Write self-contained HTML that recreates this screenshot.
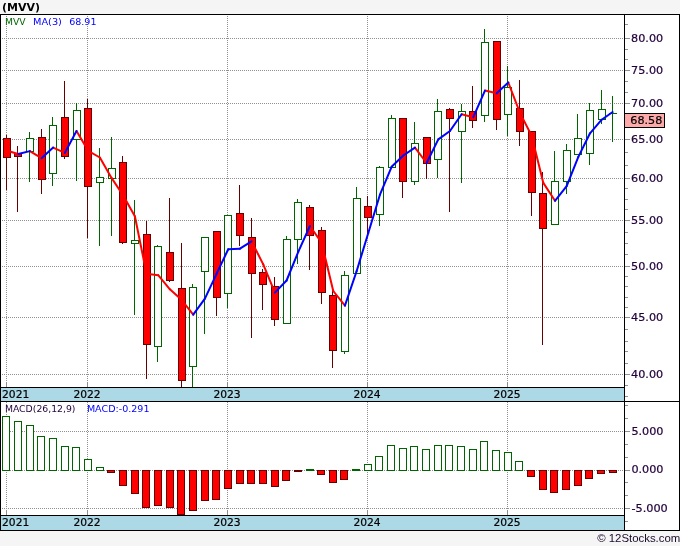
<!DOCTYPE html>
<html><head><meta charset="utf-8"><title>MVV</title>
<style>html,body{margin:0;padding:0;background:#f5f5f5;}body{width:680px;height:546px;overflow:hidden}</style></head>
<body>
<svg width="680" height="546" viewBox="0 0 680 546" style="display:block">
<rect x="0" y="0" width="680" height="546" fill="#f5f5f5"/>
<g shape-rendering="crispEdges">
<rect x="0" y="14" width="680" height="517" fill="#000"/>
<rect x="1" y="15" width="623" height="372" fill="#fff"/>
<rect x="1" y="388" width="623" height="13" fill="#add8e6"/>
<rect x="1" y="402" width="623" height="113" fill="#fff"/>
<rect x="1" y="516" width="623" height="14" fill="#add8e6"/>
<rect x="625" y="15" width="54" height="386" fill="#fff"/>
<rect x="625" y="402" width="54" height="128" fill="#fff"/>
<line x1="2" y1="38.5" x2="624" y2="38.5" stroke="#909090" stroke-width="1" stroke-dasharray="1 1"/>
<line x1="2" y1="70.5" x2="624" y2="70.5" stroke="#909090" stroke-width="1" stroke-dasharray="1 1"/>
<line x1="2" y1="103.5" x2="624" y2="103.5" stroke="#909090" stroke-width="1" stroke-dasharray="1 1"/>
<line x1="2" y1="139.5" x2="624" y2="139.5" stroke="#909090" stroke-width="1" stroke-dasharray="1 1"/>
<line x1="2" y1="178.5" x2="624" y2="178.5" stroke="#909090" stroke-width="1" stroke-dasharray="1 1"/>
<line x1="2" y1="220.5" x2="624" y2="220.5" stroke="#909090" stroke-width="1" stroke-dasharray="1 1"/>
<line x1="2" y1="266.5" x2="624" y2="266.5" stroke="#909090" stroke-width="1" stroke-dasharray="1 1"/>
<line x1="2" y1="317.5" x2="624" y2="317.5" stroke="#909090" stroke-width="1" stroke-dasharray="1 1"/>
<line x1="2" y1="374.5" x2="624" y2="374.5" stroke="#909090" stroke-width="1" stroke-dasharray="1 1"/>
<line x1="2" y1="431.5" x2="624" y2="431.5" stroke="#909090" stroke-width="1" stroke-dasharray="1 1"/>
<line x1="2" y1="470.5" x2="624" y2="470.5" stroke="#909090" stroke-width="1" stroke-dasharray="1 1"/>
<line x1="2" y1="508.5" x2="624" y2="508.5" stroke="#909090" stroke-width="1" stroke-dasharray="1 1"/>
<line x1="6.5" y1="16" x2="6.5" y2="382" stroke="#909090" stroke-width="1" stroke-dasharray="1 1"/>
<line x1="6.5" y1="402" x2="6.5" y2="510" stroke="#909090" stroke-width="1" stroke-dasharray="1 1"/>
<rect x="6" y="382" width="1" height="5" fill="#909090"/>
<rect x="6" y="510" width="1" height="5" fill="#909090"/>
<line x1="87.5" y1="16" x2="87.5" y2="382" stroke="#909090" stroke-width="1" stroke-dasharray="1 1"/>
<line x1="87.5" y1="402" x2="87.5" y2="510" stroke="#909090" stroke-width="1" stroke-dasharray="1 1"/>
<rect x="87" y="382" width="1" height="5" fill="#909090"/>
<rect x="87" y="510" width="1" height="5" fill="#909090"/>
<line x1="227.5" y1="16" x2="227.5" y2="382" stroke="#909090" stroke-width="1" stroke-dasharray="1 1"/>
<line x1="227.5" y1="402" x2="227.5" y2="510" stroke="#909090" stroke-width="1" stroke-dasharray="1 1"/>
<rect x="227" y="382" width="1" height="5" fill="#909090"/>
<rect x="227" y="510" width="1" height="5" fill="#909090"/>
<line x1="367.5" y1="16" x2="367.5" y2="382" stroke="#909090" stroke-width="1" stroke-dasharray="1 1"/>
<line x1="367.5" y1="402" x2="367.5" y2="510" stroke="#909090" stroke-width="1" stroke-dasharray="1 1"/>
<rect x="367" y="382" width="1" height="5" fill="#909090"/>
<rect x="367" y="510" width="1" height="5" fill="#909090"/>
<line x1="507.5" y1="16" x2="507.5" y2="382" stroke="#909090" stroke-width="1" stroke-dasharray="1 1"/>
<line x1="507.5" y1="402" x2="507.5" y2="510" stroke="#909090" stroke-width="1" stroke-dasharray="1 1"/>
<rect x="507" y="382" width="1" height="5" fill="#909090"/>
<rect x="507" y="510" width="1" height="5" fill="#909090"/>
<rect x="625" y="38" width="5" height="1" fill="#909090"/>
<rect x="625" y="70" width="5" height="1" fill="#909090"/>
<rect x="625" y="103" width="5" height="1" fill="#909090"/>
<rect x="625" y="139" width="5" height="1" fill="#909090"/>
<rect x="625" y="178" width="5" height="1" fill="#909090"/>
<rect x="625" y="220" width="5" height="1" fill="#909090"/>
<rect x="625" y="266" width="5" height="1" fill="#909090"/>
<rect x="625" y="317" width="5" height="1" fill="#909090"/>
<rect x="625" y="374" width="5" height="1" fill="#909090"/>
<rect x="625" y="24" width="3" height="1" fill="#909090"/>
<rect x="625" y="49" width="3" height="1" fill="#909090"/>
<rect x="625" y="59" width="3" height="1" fill="#909090"/>
<rect x="625" y="81" width="3" height="1" fill="#909090"/>
<rect x="625" y="92" width="3" height="1" fill="#909090"/>
<rect x="625" y="152" width="3" height="1" fill="#909090"/>
<rect x="625" y="165" width="3" height="1" fill="#909090"/>
<rect x="625" y="188" width="3" height="1" fill="#909090"/>
<rect x="625" y="199" width="3" height="1" fill="#909090"/>
<rect x="625" y="209" width="3" height="1" fill="#909090"/>
<rect x="625" y="232" width="3" height="1" fill="#909090"/>
<rect x="625" y="243" width="3" height="1" fill="#909090"/>
<rect x="625" y="254" width="3" height="1" fill="#909090"/>
<rect x="625" y="276" width="3" height="1" fill="#909090"/>
<rect x="625" y="286" width="3" height="1" fill="#909090"/>
<rect x="625" y="297" width="3" height="1" fill="#909090"/>
<rect x="625" y="307" width="3" height="1" fill="#909090"/>
<rect x="625" y="329" width="3" height="1" fill="#909090"/>
<rect x="625" y="341" width="3" height="1" fill="#909090"/>
<rect x="625" y="351" width="3" height="1" fill="#909090"/>
<rect x="625" y="363" width="3" height="1" fill="#909090"/>
<rect x="625" y="385" width="3" height="1" fill="#909090"/>
<rect x="625" y="396" width="3" height="1" fill="#909090"/>
<rect x="625" y="431" width="5" height="1" fill="#909090"/>
<rect x="625" y="470" width="5" height="1" fill="#909090"/>
<rect x="625" y="508" width="5" height="1" fill="#909090"/>
<rect x="625" y="405" width="3" height="1" fill="#909090"/>
<rect x="625" y="418" width="3" height="1" fill="#909090"/>
<rect x="625" y="444" width="3" height="1" fill="#909090"/>
<rect x="625" y="457" width="3" height="1" fill="#909090"/>
<rect x="625" y="482" width="3" height="1" fill="#909090"/>
<rect x="625" y="495" width="3" height="1" fill="#909090"/>
<rect x="625" y="521" width="3" height="1" fill="#909090"/>
<rect x="6" y="135" width="1" height="55" fill="#640000"/>
<rect x="3" y="138" width="8" height="20" fill="#640000"/>
<rect x="4" y="139" width="6" height="18" fill="#ff0000"/>
<rect x="17" y="146" width="1" height="66" fill="#640000"/>
<rect x="14" y="153" width="8" height="4" fill="#640000"/>
<rect x="15" y="154" width="6" height="2" fill="#ff0000"/>
<rect x="29" y="132" width="1" height="50" fill="#006400"/>
<rect x="26" y="138" width="8" height="14" fill="#006400"/>
<rect x="27" y="139" width="6" height="12" fill="#fff"/>
<rect x="41" y="129" width="1" height="65" fill="#640000"/>
<rect x="38" y="137" width="8" height="43" fill="#640000"/>
<rect x="39" y="138" width="6" height="41" fill="#ff0000"/>
<rect x="52" y="117" width="1" height="69" fill="#006400"/>
<rect x="49" y="125" width="8" height="49" fill="#006400"/>
<rect x="50" y="126" width="6" height="47" fill="#fff"/>
<rect x="64" y="81" width="1" height="78" fill="#640000"/>
<rect x="61" y="117" width="8" height="40" fill="#640000"/>
<rect x="62" y="118" width="6" height="38" fill="#ff0000"/>
<rect x="76" y="103" width="1" height="78" fill="#006400"/>
<rect x="73" y="110" width="8" height="30" fill="#006400"/>
<rect x="74" y="111" width="6" height="28" fill="#fff"/>
<rect x="87" y="99" width="1" height="139" fill="#640000"/>
<rect x="84" y="108" width="8" height="79" fill="#640000"/>
<rect x="85" y="109" width="6" height="77" fill="#ff0000"/>
<rect x="99" y="148" width="1" height="98" fill="#006400"/>
<rect x="96" y="177" width="8" height="6" fill="#006400"/>
<rect x="97" y="178" width="6" height="4" fill="#fff"/>
<rect x="111" y="137" width="1" height="99" fill="#006400"/>
<rect x="108" y="168" width="8" height="11" fill="#006400"/>
<rect x="109" y="169" width="6" height="9" fill="#fff"/>
<rect x="122" y="156" width="1" height="88" fill="#640000"/>
<rect x="119" y="162" width="8" height="81" fill="#640000"/>
<rect x="120" y="163" width="6" height="79" fill="#ff0000"/>
<rect x="134" y="200" width="1" height="115" fill="#006400"/>
<rect x="131" y="240" width="8" height="4" fill="#006400"/>
<rect x="132" y="241" width="6" height="2" fill="#fff"/>
<rect x="146" y="221" width="1" height="158" fill="#640000"/>
<rect x="143" y="234" width="8" height="111" fill="#640000"/>
<rect x="144" y="235" width="6" height="109" fill="#ff0000"/>
<rect x="157" y="245" width="1" height="117" fill="#006400"/>
<rect x="154" y="246" width="8" height="101" fill="#006400"/>
<rect x="155" y="247" width="6" height="99" fill="#fff"/>
<rect x="169" y="198" width="1" height="84" fill="#640000"/>
<rect x="166" y="252" width="8" height="29" fill="#640000"/>
<rect x="167" y="253" width="6" height="27" fill="#ff0000"/>
<rect x="181" y="243" width="1" height="144" fill="#640000"/>
<rect x="178" y="288" width="8" height="93" fill="#640000"/>
<rect x="179" y="289" width="6" height="91" fill="#ff0000"/>
<rect x="192" y="284" width="1" height="103" fill="#006400"/>
<rect x="189" y="287" width="8" height="80" fill="#006400"/>
<rect x="190" y="288" width="6" height="78" fill="#fff"/>
<rect x="204" y="237" width="1" height="97" fill="#006400"/>
<rect x="201" y="237" width="8" height="35" fill="#006400"/>
<rect x="202" y="238" width="6" height="33" fill="#fff"/>
<rect x="216" y="231" width="1" height="85" fill="#640000"/>
<rect x="213" y="231" width="8" height="67" fill="#640000"/>
<rect x="214" y="232" width="6" height="65" fill="#ff0000"/>
<rect x="227" y="215" width="1" height="93" fill="#006400"/>
<rect x="224" y="215" width="8" height="79" fill="#006400"/>
<rect x="225" y="216" width="6" height="77" fill="#fff"/>
<rect x="239" y="185" width="1" height="61" fill="#640000"/>
<rect x="236" y="213" width="8" height="23" fill="#640000"/>
<rect x="237" y="214" width="6" height="21" fill="#ff0000"/>
<rect x="251" y="218" width="1" height="120" fill="#640000"/>
<rect x="248" y="237" width="8" height="37" fill="#640000"/>
<rect x="249" y="238" width="6" height="35" fill="#ff0000"/>
<rect x="262" y="269" width="1" height="41" fill="#640000"/>
<rect x="259" y="272" width="8" height="13" fill="#640000"/>
<rect x="260" y="273" width="6" height="11" fill="#ff0000"/>
<rect x="274" y="277" width="1" height="49" fill="#640000"/>
<rect x="271" y="286" width="8" height="34" fill="#640000"/>
<rect x="272" y="287" width="6" height="32" fill="#ff0000"/>
<rect x="286" y="236" width="1" height="88" fill="#006400"/>
<rect x="283" y="239" width="8" height="85" fill="#006400"/>
<rect x="284" y="240" width="6" height="83" fill="#fff"/>
<rect x="297" y="199" width="1" height="65" fill="#006400"/>
<rect x="294" y="202" width="8" height="38" fill="#006400"/>
<rect x="295" y="203" width="6" height="36" fill="#fff"/>
<rect x="309" y="205" width="1" height="65" fill="#640000"/>
<rect x="306" y="207" width="8" height="29" fill="#640000"/>
<rect x="307" y="208" width="6" height="27" fill="#ff0000"/>
<rect x="321" y="227" width="1" height="77" fill="#640000"/>
<rect x="318" y="230" width="8" height="63" fill="#640000"/>
<rect x="319" y="231" width="6" height="61" fill="#ff0000"/>
<rect x="332" y="290" width="1" height="78" fill="#640000"/>
<rect x="329" y="295" width="8" height="56" fill="#640000"/>
<rect x="330" y="296" width="6" height="54" fill="#ff0000"/>
<rect x="344" y="271" width="1" height="83" fill="#006400"/>
<rect x="341" y="275" width="8" height="77" fill="#006400"/>
<rect x="342" y="276" width="6" height="75" fill="#fff"/>
<rect x="356" y="187" width="1" height="87" fill="#006400"/>
<rect x="353" y="198" width="8" height="76" fill="#006400"/>
<rect x="354" y="199" width="6" height="74" fill="#fff"/>
<rect x="367" y="196" width="1" height="41" fill="#640000"/>
<rect x="364" y="206" width="8" height="12" fill="#640000"/>
<rect x="365" y="207" width="6" height="10" fill="#ff0000"/>
<rect x="379" y="166" width="1" height="60" fill="#006400"/>
<rect x="376" y="167" width="8" height="48" fill="#006400"/>
<rect x="377" y="168" width="6" height="46" fill="#fff"/>
<rect x="391" y="115" width="1" height="53" fill="#006400"/>
<rect x="388" y="118" width="8" height="50" fill="#006400"/>
<rect x="389" y="119" width="6" height="48" fill="#fff"/>
<rect x="402" y="118" width="1" height="80" fill="#640000"/>
<rect x="399" y="118" width="8" height="64" fill="#640000"/>
<rect x="400" y="119" width="6" height="62" fill="#ff0000"/>
<rect x="414" y="122" width="1" height="63" fill="#006400"/>
<rect x="411" y="143" width="8" height="39" fill="#006400"/>
<rect x="412" y="144" width="6" height="37" fill="#fff"/>
<rect x="426" y="137" width="1" height="42" fill="#640000"/>
<rect x="423" y="137" width="8" height="27" fill="#640000"/>
<rect x="424" y="138" width="6" height="25" fill="#ff0000"/>
<rect x="437" y="99" width="1" height="79" fill="#006400"/>
<rect x="434" y="111" width="8" height="49" fill="#006400"/>
<rect x="435" y="112" width="6" height="47" fill="#fff"/>
<rect x="449" y="108" width="1" height="104" fill="#640000"/>
<rect x="446" y="109" width="8" height="10" fill="#640000"/>
<rect x="447" y="110" width="6" height="8" fill="#ff0000"/>
<rect x="461" y="104" width="1" height="79" fill="#006400"/>
<rect x="458" y="111" width="8" height="21" fill="#006400"/>
<rect x="459" y="112" width="6" height="19" fill="#fff"/>
<rect x="472" y="86" width="1" height="42" fill="#640000"/>
<rect x="469" y="111" width="8" height="10" fill="#640000"/>
<rect x="470" y="112" width="6" height="8" fill="#ff0000"/>
<rect x="484" y="29" width="1" height="93" fill="#006400"/>
<rect x="481" y="42" width="8" height="74" fill="#006400"/>
<rect x="482" y="43" width="6" height="72" fill="#fff"/>
<rect x="496" y="41" width="1" height="89" fill="#640000"/>
<rect x="493" y="41" width="8" height="79" fill="#640000"/>
<rect x="494" y="42" width="6" height="77" fill="#ff0000"/>
<rect x="507" y="66" width="1" height="70" fill="#006400"/>
<rect x="504" y="87" width="8" height="28" fill="#006400"/>
<rect x="505" y="88" width="6" height="26" fill="#fff"/>
<rect x="519" y="80" width="1" height="66" fill="#640000"/>
<rect x="516" y="108" width="8" height="24" fill="#640000"/>
<rect x="517" y="109" width="6" height="22" fill="#ff0000"/>
<rect x="531" y="131" width="1" height="85" fill="#640000"/>
<rect x="528" y="131" width="8" height="62" fill="#640000"/>
<rect x="529" y="132" width="6" height="60" fill="#ff0000"/>
<rect x="542" y="172" width="1" height="173" fill="#640000"/>
<rect x="539" y="193" width="8" height="36" fill="#640000"/>
<rect x="540" y="194" width="6" height="34" fill="#ff0000"/>
<rect x="554" y="151" width="1" height="74" fill="#006400"/>
<rect x="551" y="181" width="8" height="44" fill="#006400"/>
<rect x="552" y="182" width="6" height="42" fill="#fff"/>
<rect x="566" y="144" width="1" height="50" fill="#006400"/>
<rect x="563" y="150" width="8" height="32" fill="#006400"/>
<rect x="564" y="151" width="6" height="30" fill="#fff"/>
<rect x="577" y="114" width="1" height="41" fill="#006400"/>
<rect x="574" y="138" width="8" height="17" fill="#006400"/>
<rect x="575" y="139" width="6" height="15" fill="#fff"/>
<rect x="589" y="103" width="1" height="62" fill="#006400"/>
<rect x="586" y="110" width="8" height="44" fill="#006400"/>
<rect x="587" y="111" width="6" height="42" fill="#fff"/>
<rect x="601" y="90" width="1" height="34" fill="#006400"/>
<rect x="598" y="109" width="8" height="11" fill="#006400"/>
<rect x="599" y="110" width="6" height="9" fill="#fff"/>
<rect x="612" y="96" width="1" height="46" fill="#006400"/>
<rect x="609" y="113" width="8" height="1" fill="#006400"/>
<rect x="2" y="416" width="8" height="55" fill="#006400"/>
<rect x="3" y="417" width="6" height="53" fill="#fff"/>
<rect x="14" y="421" width="8" height="50" fill="#006400"/>
<rect x="15" y="422" width="6" height="48" fill="#fff"/>
<rect x="26" y="425" width="8" height="46" fill="#006400"/>
<rect x="27" y="426" width="6" height="44" fill="#fff"/>
<rect x="37" y="436" width="8" height="35" fill="#006400"/>
<rect x="38" y="437" width="6" height="33" fill="#fff"/>
<rect x="49" y="438" width="8" height="33" fill="#006400"/>
<rect x="50" y="439" width="6" height="31" fill="#fff"/>
<rect x="61" y="446" width="8" height="25" fill="#006400"/>
<rect x="62" y="447" width="6" height="23" fill="#fff"/>
<rect x="72" y="447" width="8" height="24" fill="#006400"/>
<rect x="73" y="448" width="6" height="22" fill="#fff"/>
<rect x="84" y="459" width="8" height="12" fill="#006400"/>
<rect x="85" y="460" width="6" height="10" fill="#fff"/>
<rect x="96" y="467" width="8" height="4" fill="#006400"/>
<rect x="97" y="468" width="6" height="2" fill="#fff"/>
<rect x="107" y="470" width="8" height="3" fill="#640000"/>
<rect x="108" y="471" width="6" height="1" fill="#ff0000"/>
<rect x="119" y="470" width="8" height="16" fill="#640000"/>
<rect x="120" y="471" width="6" height="14" fill="#ff0000"/>
<rect x="131" y="470" width="8" height="24" fill="#640000"/>
<rect x="132" y="471" width="6" height="22" fill="#ff0000"/>
<rect x="142" y="470" width="8" height="38" fill="#640000"/>
<rect x="143" y="471" width="6" height="36" fill="#ff0000"/>
<rect x="154" y="470" width="8" height="36" fill="#640000"/>
<rect x="155" y="471" width="6" height="34" fill="#ff0000"/>
<rect x="166" y="470" width="8" height="38" fill="#640000"/>
<rect x="167" y="471" width="6" height="36" fill="#ff0000"/>
<rect x="177" y="470" width="8" height="45" fill="#640000"/>
<rect x="178" y="471" width="6" height="43" fill="#ff0000"/>
<rect x="189" y="470" width="8" height="41" fill="#640000"/>
<rect x="190" y="471" width="6" height="39" fill="#ff0000"/>
<rect x="201" y="470" width="8" height="31" fill="#640000"/>
<rect x="202" y="471" width="6" height="29" fill="#ff0000"/>
<rect x="212" y="470" width="8" height="30" fill="#640000"/>
<rect x="213" y="471" width="6" height="28" fill="#ff0000"/>
<rect x="224" y="470" width="8" height="19" fill="#640000"/>
<rect x="225" y="471" width="6" height="17" fill="#ff0000"/>
<rect x="236" y="470" width="8" height="14" fill="#640000"/>
<rect x="237" y="471" width="6" height="12" fill="#ff0000"/>
<rect x="247" y="470" width="8" height="14" fill="#640000"/>
<rect x="248" y="471" width="6" height="12" fill="#ff0000"/>
<rect x="259" y="470" width="8" height="14" fill="#640000"/>
<rect x="260" y="471" width="6" height="12" fill="#ff0000"/>
<rect x="271" y="470" width="8" height="17" fill="#640000"/>
<rect x="272" y="471" width="6" height="15" fill="#ff0000"/>
<rect x="282" y="470" width="8" height="11" fill="#640000"/>
<rect x="283" y="471" width="6" height="9" fill="#ff0000"/>
<rect x="294" y="470" width="8" height="2" fill="#640000"/>
<rect x="306" y="469" width="8" height="2" fill="#006400"/>
<rect x="317" y="470" width="8" height="5" fill="#640000"/>
<rect x="318" y="471" width="6" height="3" fill="#ff0000"/>
<rect x="329" y="470" width="8" height="13" fill="#640000"/>
<rect x="330" y="471" width="6" height="11" fill="#ff0000"/>
<rect x="340" y="470" width="8" height="10" fill="#640000"/>
<rect x="341" y="471" width="6" height="8" fill="#ff0000"/>
<rect x="352" y="469" width="8" height="2" fill="#006400"/>
<rect x="364" y="464" width="8" height="7" fill="#006400"/>
<rect x="365" y="465" width="6" height="5" fill="#fff"/>
<rect x="375" y="456" width="8" height="15" fill="#006400"/>
<rect x="376" y="457" width="6" height="13" fill="#fff"/>
<rect x="387" y="445" width="8" height="26" fill="#006400"/>
<rect x="388" y="446" width="6" height="24" fill="#fff"/>
<rect x="399" y="448" width="8" height="23" fill="#006400"/>
<rect x="400" y="449" width="6" height="21" fill="#fff"/>
<rect x="410" y="446" width="8" height="25" fill="#006400"/>
<rect x="411" y="447" width="6" height="23" fill="#fff"/>
<rect x="422" y="449" width="8" height="22" fill="#006400"/>
<rect x="423" y="450" width="6" height="20" fill="#fff"/>
<rect x="434" y="445" width="8" height="26" fill="#006400"/>
<rect x="435" y="446" width="6" height="24" fill="#fff"/>
<rect x="445" y="445" width="8" height="26" fill="#006400"/>
<rect x="446" y="446" width="6" height="24" fill="#fff"/>
<rect x="457" y="446" width="8" height="25" fill="#006400"/>
<rect x="458" y="447" width="6" height="23" fill="#fff"/>
<rect x="469" y="449" width="8" height="22" fill="#006400"/>
<rect x="470" y="450" width="6" height="20" fill="#fff"/>
<rect x="480" y="441" width="8" height="30" fill="#006400"/>
<rect x="481" y="442" width="6" height="28" fill="#fff"/>
<rect x="492" y="450" width="8" height="21" fill="#006400"/>
<rect x="493" y="451" width="6" height="19" fill="#fff"/>
<rect x="504" y="452" width="8" height="19" fill="#006400"/>
<rect x="505" y="453" width="6" height="17" fill="#fff"/>
<rect x="515" y="461" width="8" height="10" fill="#006400"/>
<rect x="516" y="462" width="6" height="8" fill="#fff"/>
<rect x="527" y="470" width="8" height="7" fill="#640000"/>
<rect x="528" y="471" width="6" height="5" fill="#ff0000"/>
<rect x="539" y="470" width="8" height="20" fill="#640000"/>
<rect x="540" y="471" width="6" height="18" fill="#ff0000"/>
<rect x="550" y="470" width="8" height="23" fill="#640000"/>
<rect x="551" y="471" width="6" height="21" fill="#ff0000"/>
<rect x="562" y="470" width="8" height="20" fill="#640000"/>
<rect x="563" y="471" width="6" height="18" fill="#ff0000"/>
<rect x="574" y="470" width="8" height="16" fill="#640000"/>
<rect x="575" y="471" width="6" height="14" fill="#ff0000"/>
<rect x="585" y="470" width="8" height="9" fill="#640000"/>
<rect x="586" y="471" width="6" height="7" fill="#ff0000"/>
<rect x="597" y="470" width="8" height="4" fill="#640000"/>
<rect x="598" y="471" width="6" height="2" fill="#ff0000"/>
<rect x="609" y="470" width="8" height="3" fill="#640000"/>
<rect x="610" y="471" width="6" height="1" fill="#ff0000"/>
<rect x="624" y="113" width="41" height="15" fill="#000"/>
<rect x="625" y="114" width="39" height="13" fill="#ffaaaa"/>
</g>
<g fill="none" stroke-width="2" stroke-linecap="round" stroke-linejoin="round">
<line x1="6.50" y1="150.5" x2="18.17" y2="154.0" stroke="#ff0000"/>
<line x1="29.84" y1="151.1" x2="41.51" y2="158.2" stroke="#ff0000"/>
<line x1="53.18" y1="147.6" x2="64.85" y2="152.9" stroke="#ff0000"/>
<line x1="76.52" y1="131.0" x2="88.19" y2="150.8" stroke="#ff0000"/>
<line x1="88.19" y1="150.8" x2="99.86" y2="157.5" stroke="#ff0000"/>
<line x1="99.86" y1="157.5" x2="111.53" y2="177.9" stroke="#ff0000"/>
<line x1="111.53" y1="177.9" x2="123.20" y2="195.5" stroke="#ff0000"/>
<line x1="123.20" y1="195.5" x2="134.87" y2="216.3" stroke="#ff0000"/>
<line x1="134.87" y1="216.3" x2="146.54" y2="273.8" stroke="#ff0000"/>
<line x1="146.54" y1="273.8" x2="158.21" y2="275.2" stroke="#ff0000"/>
<line x1="158.21" y1="275.2" x2="169.88" y2="289.3" stroke="#ff0000"/>
<line x1="169.88" y1="289.3" x2="181.55" y2="299.8" stroke="#ff0000"/>
<line x1="181.55" y1="299.8" x2="193.22" y2="314.6" stroke="#ff0000"/>
<line x1="251.57" y1="241.3" x2="263.24" y2="264.4" stroke="#ff0000"/>
<line x1="263.24" y1="264.4" x2="274.91" y2="292.6" stroke="#ff0000"/>
<line x1="309.92" y1="226.0" x2="321.59" y2="242.6" stroke="#ff0000"/>
<line x1="321.59" y1="242.6" x2="333.26" y2="291.0" stroke="#ff0000"/>
<line x1="333.26" y1="291.0" x2="344.93" y2="305.6" stroke="#ff0000"/>
<line x1="414.95" y1="147.6" x2="426.62" y2="163.0" stroke="#ff0000"/>
<line x1="461.63" y1="114.2" x2="473.30" y2="117.2" stroke="#ff0000"/>
<line x1="484.97" y1="90.6" x2="496.64" y2="93.2" stroke="#ff0000"/>
<line x1="508.31" y1="82.5" x2="519.98" y2="112.9" stroke="#ff0000"/>
<line x1="519.98" y1="112.9" x2="531.65" y2="135.7" stroke="#ff0000"/>
<line x1="531.65" y1="135.7" x2="543.32" y2="182.9" stroke="#ff0000"/>
<line x1="543.32" y1="182.9" x2="554.99" y2="200.8" stroke="#ff0000"/>
<line x1="18.17" y1="154.0" x2="29.84" y2="151.1" stroke="#0000ff"/>
<line x1="41.51" y1="158.2" x2="53.18" y2="147.6" stroke="#0000ff"/>
<line x1="64.85" y1="152.9" x2="76.52" y2="131.0" stroke="#0000ff"/>
<line x1="193.22" y1="314.6" x2="204.89" y2="298.7" stroke="#0000ff"/>
<line x1="204.89" y1="298.7" x2="216.56" y2="273.8" stroke="#0000ff"/>
<line x1="216.56" y1="273.8" x2="228.23" y2="249.3" stroke="#0000ff"/>
<line x1="228.23" y1="249.3" x2="239.90" y2="248.7" stroke="#0000ff"/>
<line x1="239.90" y1="248.7" x2="251.57" y2="241.3" stroke="#0000ff"/>
<line x1="274.91" y1="292.6" x2="286.58" y2="280.5" stroke="#0000ff"/>
<line x1="286.58" y1="280.5" x2="298.25" y2="251.9" stroke="#0000ff"/>
<line x1="298.25" y1="251.9" x2="309.92" y2="226.0" stroke="#0000ff"/>
<line x1="344.93" y1="305.6" x2="356.60" y2="271.3" stroke="#0000ff"/>
<line x1="356.60" y1="271.3" x2="368.27" y2="233.0" stroke="#0000ff"/>
<line x1="368.27" y1="233.0" x2="379.94" y2="194.7" stroke="#0000ff"/>
<line x1="379.94" y1="194.7" x2="391.61" y2="166.8" stroke="#0000ff"/>
<line x1="391.61" y1="166.8" x2="403.28" y2="155.5" stroke="#0000ff"/>
<line x1="403.28" y1="155.5" x2="414.95" y2="147.6" stroke="#0000ff"/>
<line x1="426.62" y1="163.0" x2="438.29" y2="139.4" stroke="#0000ff"/>
<line x1="438.29" y1="139.4" x2="449.96" y2="131.0" stroke="#0000ff"/>
<line x1="449.96" y1="131.0" x2="461.63" y2="114.2" stroke="#0000ff"/>
<line x1="473.30" y1="117.2" x2="484.97" y2="90.6" stroke="#0000ff"/>
<line x1="496.64" y1="93.2" x2="508.31" y2="82.5" stroke="#0000ff"/>
<line x1="554.99" y1="200.8" x2="566.66" y2="186.2" stroke="#0000ff"/>
<line x1="566.66" y1="186.2" x2="578.33" y2="156.9" stroke="#0000ff"/>
<line x1="578.33" y1="156.9" x2="590.00" y2="133.3" stroke="#0000ff"/>
<line x1="590.00" y1="133.3" x2="601.67" y2="119.7" stroke="#0000ff"/>
<line x1="601.67" y1="119.7" x2="613.34" y2="111.5" stroke="#0000ff" stroke-linecap="butt"/>
</g>
<g font-family="'DejaVu Sans','Verdana','Liberation Sans',sans-serif">
<text x="2" y="10.6" font-size="11" font-weight="bold" fill="#000">(MVV)</text>
<text x="5.1" y="25" font-size="9" fill="#006400" textLength="20.6" lengthAdjust="spacingAndGlyphs">MVV</text>
<text x="33" y="25" font-size="9" fill="#0000ff" textLength="28.9" lengthAdjust="spacingAndGlyphs">MA(3)</text>
<text x="69.2" y="25" font-size="9" fill="#0000ff" textLength="27.3" lengthAdjust="spacingAndGlyphs">68.91</text>
<text x="4.9" y="412" font-size="9" fill="#22003c" textLength="70.6" lengthAdjust="spacingAndGlyphs">MACD(26,12,9)</text>
<text x="86.9" y="412" font-size="9" fill="#0000ff" textLength="62.6" lengthAdjust="spacingAndGlyphs">MACD:-0.291</text>
<text x="631.1" y="41.6" font-size="11" fill="#22003c" stroke="#22003c" stroke-width="0.2" textLength="32.1" lengthAdjust="spacingAndGlyphs">80.00</text>
<text x="631.1" y="73.6" font-size="11" fill="#22003c" stroke="#22003c" stroke-width="0.2" textLength="32.1" lengthAdjust="spacingAndGlyphs">75.00</text>
<text x="631.1" y="106.6" font-size="11" fill="#22003c" stroke="#22003c" stroke-width="0.2" textLength="32.1" lengthAdjust="spacingAndGlyphs">70.00</text>
<text x="631.1" y="142.6" font-size="11" fill="#22003c" stroke="#22003c" stroke-width="0.2" textLength="32.1" lengthAdjust="spacingAndGlyphs">65.00</text>
<text x="631.1" y="181.6" font-size="11" fill="#22003c" stroke="#22003c" stroke-width="0.2" textLength="32.1" lengthAdjust="spacingAndGlyphs">60.00</text>
<text x="631.1" y="223.6" font-size="11" fill="#22003c" stroke="#22003c" stroke-width="0.2" textLength="32.1" lengthAdjust="spacingAndGlyphs">55.00</text>
<text x="631.1" y="269.6" font-size="11" fill="#22003c" stroke="#22003c" stroke-width="0.2" textLength="32.1" lengthAdjust="spacingAndGlyphs">50.00</text>
<text x="631.1" y="320.6" font-size="11" fill="#22003c" stroke="#22003c" stroke-width="0.2" textLength="32.1" lengthAdjust="spacingAndGlyphs">45.00</text>
<text x="631.1" y="377.6" font-size="11" fill="#22003c" stroke="#22003c" stroke-width="0.2" textLength="32.1" lengthAdjust="spacingAndGlyphs">40.00</text>
<text x="631.4" y="434.6" font-size="11" fill="#22003c" stroke="#22003c" stroke-width="0.2" textLength="32.1" lengthAdjust="spacingAndGlyphs">5.000</text>
<text x="631.4" y="472.6" font-size="11" fill="#22003c" stroke="#22003c" stroke-width="0.2" textLength="32.1" lengthAdjust="spacingAndGlyphs">0.000</text>
<text x="631.4" y="511.6" font-size="11" fill="#22003c" stroke="#22003c" stroke-width="0.2" textLength="36.4" lengthAdjust="spacingAndGlyphs">-5.000</text>
<text x="630.3" y="123.6" font-size="11" fill="#000" stroke="#000" stroke-width="0.2" textLength="32" lengthAdjust="spacingAndGlyphs">68.58</text>
<text x="2" y="398" font-size="11" fill="#000" stroke="#000" stroke-width="0.2" textLength="27.3" lengthAdjust="spacingAndGlyphs">2021</text>
<text x="73.4" y="398" font-size="11" fill="#000" stroke="#000" stroke-width="0.2" textLength="27.3" lengthAdjust="spacingAndGlyphs">2022</text>
<text x="213.4" y="398" font-size="11" fill="#000" stroke="#000" stroke-width="0.2" textLength="27.3" lengthAdjust="spacingAndGlyphs">2023</text>
<text x="353.4" y="398" font-size="11" fill="#000" stroke="#000" stroke-width="0.2" textLength="27.3" lengthAdjust="spacingAndGlyphs">2024</text>
<text x="493.4" y="398" font-size="11" fill="#000" stroke="#000" stroke-width="0.2" textLength="27.3" lengthAdjust="spacingAndGlyphs">2025</text>
<text x="2" y="526" font-size="11" fill="#000" stroke="#000" stroke-width="0.2" textLength="27.3" lengthAdjust="spacingAndGlyphs">2021</text>
<text x="73.4" y="526" font-size="11" fill="#000" stroke="#000" stroke-width="0.2" textLength="27.3" lengthAdjust="spacingAndGlyphs">2022</text>
<text x="213.4" y="526" font-size="11" fill="#000" stroke="#000" stroke-width="0.2" textLength="27.3" lengthAdjust="spacingAndGlyphs">2023</text>
<text x="353.4" y="526" font-size="11" fill="#000" stroke="#000" stroke-width="0.2" textLength="27.3" lengthAdjust="spacingAndGlyphs">2024</text>
<text x="493.4" y="526" font-size="11" fill="#000" stroke="#000" stroke-width="0.2" textLength="27.3" lengthAdjust="spacingAndGlyphs">2025</text>
</g>
<text x="680.3" y="542" font-size="11.4" fill="#1a0a2a" text-anchor="end" font-family="'Liberation Sans',Arial,sans-serif">© 12Stocks.com</text>
</svg>
</body></html>
